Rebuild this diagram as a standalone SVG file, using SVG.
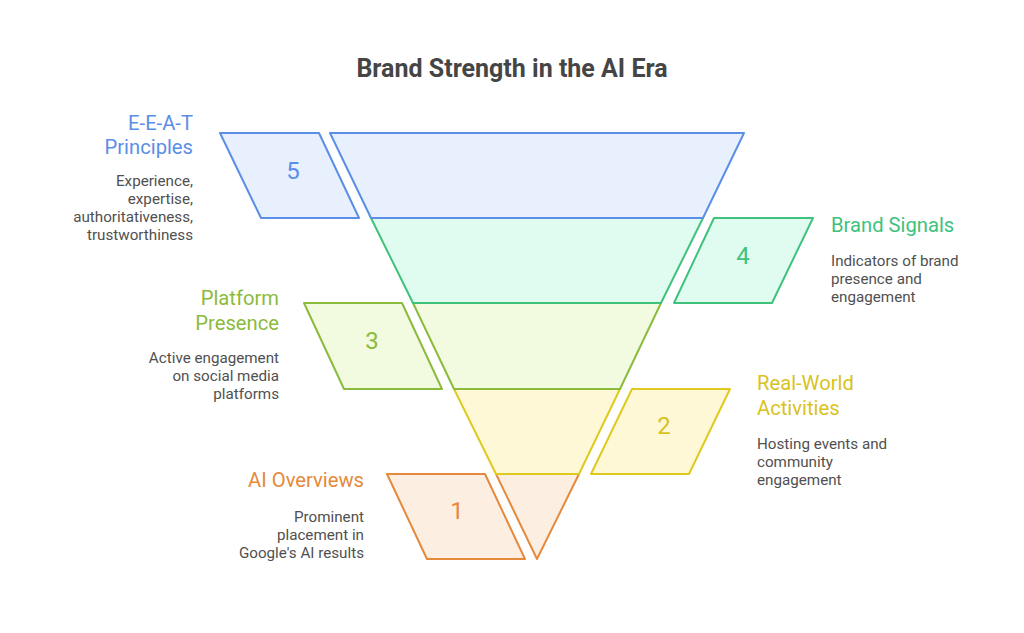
<svg xmlns="http://www.w3.org/2000/svg" width="1024" height="633" viewBox="0 0 1024 633">
<style>
.t{font-family:Roboto,"Liberation Sans",sans-serif}
.title{font-size:25px;font-weight:bold;fill:#454545}
.h{font-size:20.2px}
.d{font-size:15.2px;fill:#505050}
.n{font-size:24px;text-anchor:middle}
.s{stroke-width:2;stroke-linejoin:round}
.blue{stroke:#5B8EE6;fill:#E9F0FD}
.green{stroke:#3EC27C;fill:#E0FBF0}
.lime{stroke:#8BBB3C;fill:#F2FADF}
.yel{stroke:#E0C91E;fill:#FEF8D6}
.org{stroke:#E5893B;fill:#FDEEE2}
</style>
<rect width="1024" height="633" fill="#ffffff"/>
<text class="t title" x="512" y="77" text-anchor="middle">Brand Strength in the AI Era</text>
<g id="funnel">
<polygon class="s org" points="496,474 579,474 537,559"/>
<polygon class="s yel" points="454,389 620,389 579,474 496,474"/>
<polygon class="s lime" points="413,303 661,303 620,389 454,389"/>
<polygon class="s green" points="371,218 703,218 661,303 413,303"/>
<polygon class="s blue" points="330,133 744,133 703,218 371,218"/>
</g>
<g id="node5">
<polygon class="s blue" points="220,133 319,133 359,218 261,218"/>
<text class="t n" x="293" y="179" fill="#5B8EE6">5</text>
<text class="t h" text-anchor="end" fill="#5B8EE6"><tspan x="193" y="130">E-E-A-T</tspan><tspan x="193" y="154">Principles</tspan></text>
<text class="t d" text-anchor="end"><tspan x="193" y="186">Experience,</tspan><tspan x="193" y="204">expertise,</tspan><tspan x="193" y="222">authoritativeness,</tspan><tspan x="193" y="240">trustworthiness</tspan></text>
</g>
<g id="node4">
<polygon class="s green" points="714,218 813,218 772,303 674,303"/>
<text class="t n" x="743" y="264" fill="#3EC27C">4</text>
<text class="t h" x="831" y="232" fill="#3EC27C">Brand Signals</text>
<text class="t d"><tspan x="831" y="266">Indicators of brand</tspan><tspan x="831" y="284">presence and</tspan><tspan x="831" y="302">engagement</tspan></text>
</g>
<g id="node3">
<polygon class="s lime" points="304,303 402,303 442,389 344,389"/>
<text class="t n" x="372" y="349" fill="#8BBB3C">3</text>
<text class="t h" text-anchor="end" fill="#8BBB3C"><tspan x="279" y="305">Platform</tspan><tspan x="279" y="330">Presence</tspan></text>
<text class="t d" text-anchor="end"><tspan x="279" y="363">Active engagement</tspan><tspan x="279" y="381">on social media</tspan><tspan x="279" y="399">platforms</tspan></text>
</g>
<g id="node2">
<polygon class="s yel" points="632,389 730,389 689,474 591,474"/>
<text class="t n" x="664" y="434" fill="#D9C21E">2</text>
<text class="t h" fill="#D9C21E"><tspan x="757" y="390">Real-World</tspan><tspan x="757" y="415">Activities</tspan></text>
<text class="t d"><tspan x="757" y="449">Hosting events and</tspan><tspan x="757" y="467">community</tspan><tspan x="757" y="485">engagement</tspan></text>
</g>
<g id="node1">
<polygon class="s org" points="387,474 485,474 525,559 427,559"/>
<text class="t n" x="457" y="519" fill="#E5893B">1</text>
<text class="t h" x="364" y="487" text-anchor="end" fill="#E5893B">AI Overviews</text>
<text class="t d" text-anchor="end"><tspan x="364" y="522">Prominent</tspan><tspan x="364" y="540">placement in</tspan><tspan x="364" y="558">Google's AI results</tspan></text>
</g>
<g id="connectors"></g>
</svg>
